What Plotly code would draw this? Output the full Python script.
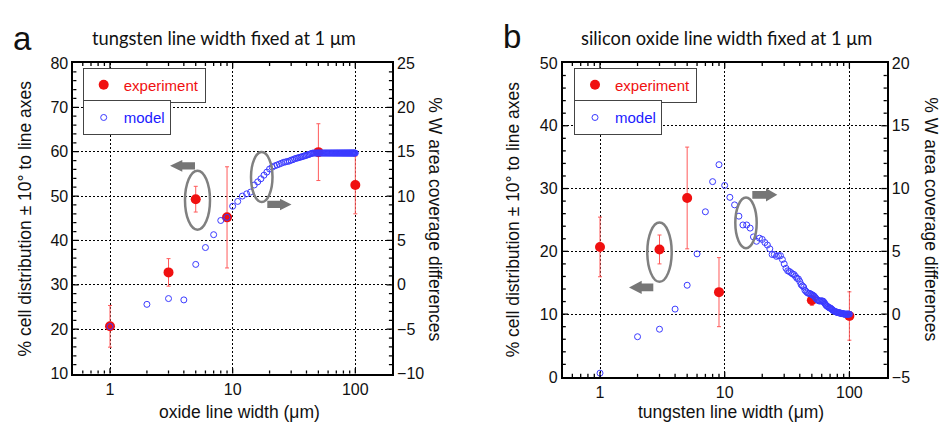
import math
import plotly.graph_objects as go

# ---------------- data ----------------
# panel a: tungsten line width fixed at 1 um, x = oxide line width
oxide_width_exp = [1, 3, 5, 9, 50, 100]
cell_pct_a = [20.65, 32.8, 49.3, 45.2, 59.9, 52.5]
cell_err_a = [4.7, 3.1, 2.9, 11.4, 6.4, 6.5]

model_width = [1, 2, 3, 4, 5, 6, 7, 8, 9, 10,
               11, 12, 13, 14, 15, 16, 17, 18, 19, 20,
               21, 22, 23, 24, 25, 26, 27, 28, 29, 30,
               31, 32, 33, 34, 35, 36, 37, 38, 39, 40,
               41, 42, 43, 44, 45, 46, 47, 48, 49, 50,
               51, 52, 53, 54, 55, 56, 57, 58, 59, 60,
               61, 62, 63, 64, 65, 66, 67, 68, 69, 70,
               71, 72, 73, 74, 75, 76, 77, 78, 79, 80,
               81, 82, 83, 84, 85, 86, 87, 88, 89, 90,
               91, 92, 93, 94, 95, 96, 97, 98, 99, 100]

w_cov_a = [-4.7, -2.2, -1.55, -1.7, 2.3, 4.2, 5.65, 7.25, 7.6, 8.85,
           9.4, 10.0, 10.25, 10.45, 11.25, 11.6, 11.95, 12.35, 12.7, 13.05,
           13.25, 13.4, 13.5, 13.6, 13.7, 13.8, 13.85, 13.9, 13.95, 14.05,
           14.1, 14.2, 14.25, 14.3, 14.35, 14.4, 14.45, 14.5, 14.55, 14.6,
           14.65, 14.7, 14.75, 14.8, 14.85, 14.85, 14.85, 14.85, 14.85, 14.85,
           14.85, 14.85, 14.85, 14.85, 14.85, 14.85, 14.85, 14.85, 14.85, 14.85,
           14.85, 14.85, 14.85, 14.85, 14.85, 14.85, 14.85, 14.85, 14.85, 14.85,
           14.85, 14.85, 14.85, 14.85, 14.85, 14.85, 14.85, 14.85, 14.85, 14.85,
           14.85, 14.85, 14.85, 14.85, 14.85, 14.85, 14.85, 14.85, 14.85, 14.85,
           14.85, 14.85, 14.85, 14.85, 14.85, 14.85, 14.85, 14.85, 14.85, 14.85]

# panel b: silicon oxide line width fixed at 1 um, x = tungsten line width
tungsten_width_exp = [1, 3, 5, 9, 50, 100]
cell_pct_b = [20.7, 20.3, 28.5, 13.5, 12.2, 9.7]
cell_err_b = [4.75, 2.3, 8.1, 5.5, 0.8, 3.85]

w_cov_b = [-4.7, -1.8, -1.2, 0.4, 2.3, 4.8, 8.15, 10.55, 11.9, 10.25,
           9.3, 8.7, 7.8, 7.1, 7.1, 6.85, 6.15, 5.8, 6.05, 5.95,
           5.7, 5.5, 5.2, 4.75, 4.75, 4.6, 4.65, 4.65, 4.35, 4.0,
           3.65, 3.45, 3.4, 3.3, 3.2, 3.15, 3.0, 2.85, 2.8, 2.6,
           2.35, 2.25, 2.15, 1.9, 1.8, 1.7, 1.65, 1.65, 1.6, 1.55,
           1.5, 1.45, 1.35, 1.25, 1.15, 1.1, 1.05, 1.05, 1.05, 1.05,
           1.05, 1.0, 0.9, 0.8, 0.7, 0.65, 0.6, 0.55, 0.5, 0.5,
           0.45, 0.4, 0.35, 0.3, 0.25, 0.22, 0.2, 0.18, 0.15, 0.15,
           0.12, 0.1, 0.1, 0.1, 0.08, 0.05, 0.05, 0.05, 0.02, 0.02,
           0.0, 0.0, 0.0, 0.0, 0.0, 0.0, 0.0, 0.0, 0.0, 0.0]

# axis tick positions
x_major_ticks = [1, 10, 100]
x_minor_ticks = [0.6, 0.7, 0.8, 0.9, 2, 3, 4, 5, 6, 7, 8, 9,
                 20, 30, 40, 50, 60, 70, 80, 90]
X_LOG_RANGE = [-0.3, 2.3]

# ---------------- styling ----------------
W, H = 941, 433
RED = "#f01010"
ERR = "#ff5a5a"
BLUE = "#3a3aff"
GRAY = "#808080"
AX_FONT = "Liberation Sans, Arial, sans-serif"
TITLE_FONT = "Lato, Carlito, sans-serif"


def px(x):
    return x / W


def py(y):
    return 1 - y / H


fig = go.Figure()

# panel a
fig.add_trace(go.Scatter(
    x=oxide_width_exp, y=cell_pct_a, mode="markers", name="experiment",
    marker=dict(color=RED, size=10), showlegend=True,
    error_y=dict(type="data", array=cell_err_a, color=ERR, thickness=1, width=2),
    xaxis="x", yaxis="y", legend="legend"))
fig.add_trace(go.Scatter(
    x=model_width, y=w_cov_a, mode="markers", name="model", showlegend=True,
    marker=dict(symbol="circle-open", color=BLUE, size=6, line=dict(width=1)),
    xaxis="x", yaxis="y2", legend="legend2"))

# panel b
fig.add_trace(go.Scatter(
    x=tungsten_width_exp, y=cell_pct_b, mode="markers", name="experiment",
    marker=dict(color=RED, size=10), showlegend=True,
    error_y=dict(type="data", array=cell_err_b, color=ERR, thickness=1, width=2),
    xaxis="x2", yaxis="y3", legend="legend3"))
fig.add_trace(go.Scatter(
    x=model_width, y=w_cov_b, mode="markers", name="model", showlegend=True,
    marker=dict(symbol="circle-open", color=BLUE, size=6, line=dict(width=1)),
    xaxis="x2", yaxis="y4", legend="legend4"))

GRID_DASH = "2px,2px"

xa_common = dict(
    type="log", range=X_LOG_RANGE, tickvals=x_major_ticks,
    ticktext=[str(v) for v in x_major_ticks],
    ticks="", showline=True, linecolor="black", linewidth=1.6, mirror=True,
    showgrid=True, gridcolor="black", gridwidth=1, griddash=GRID_DASH,
    zeroline=False, tickfont=dict(family=AX_FONT, size=16, color="#111"),
)
yl_common = dict(
    ticks="", showline=True, linecolor="black", linewidth=1.6, mirror=False,
    showgrid=True, gridcolor="black", gridwidth=1, griddash=GRID_DASH,
    zeroline=False, tickfont=dict(family=AX_FONT, size=16, color="#111"),
)
yr_common = dict(
    ticks="", showline=True, linecolor="black", linewidth=1.6, side="right",
    showgrid=False, zeroline=False,
    tickfont=dict(family=AX_FONT, size=16, color="#111"),
)

dom_a = [px(73.2), px(392.1)]
dom_b = [px(562.6), px(886.8)]
ydom_a = [py(380.5), py(57.2)]
ydom_b = [py(384.0), py(57.2)]

YA_RANGE, YA2_RANGE = [10, 80], [-10, 25]
YB_RANGE, YB2_RANGE = [0, 50], [-5, 20]

fig.update_layout(
    width=W, height=H, margin=dict(l=0, r=0, t=0, b=0),
    paper_bgcolor="white", plot_bgcolor="white", showlegend=True,
    xaxis=dict(domain=dom_a, anchor="y", **xa_common),
    yaxis=dict(domain=ydom_a, anchor="x", range=YA_RANGE, dtick=10, **yl_common),
    yaxis2=dict(overlaying="y", anchor="x", range=YA2_RANGE, dtick=5, **yr_common),
    xaxis2=dict(domain=dom_b, anchor="y3", **xa_common),
    yaxis3=dict(domain=ydom_b, anchor="x2", range=YB_RANGE, dtick=10, **yl_common),
    yaxis4=dict(overlaying="y3", anchor="x2", range=YB2_RANGE, dtick=5, **yr_common),
)

leg_common = dict(xanchor="left", yanchor="top", bgcolor="white",
                  bordercolor="#444", borderwidth=1, itemsizing="trace",
                  visible=True)
fig.update_layout(
    legend=dict(x=px(82.7), y=py(62), font=dict(family=AX_FONT, size=15, color=RED), **leg_common),
    legend2=dict(x=px(82.7), y=py(96), font=dict(family=AX_FONT, size=15, color="#1a1aff"), **leg_common),
    legend3=dict(x=px(574), y=py(62), font=dict(family=AX_FONT, size=15, color=RED), **leg_common),
    legend4=dict(x=px(574), y=py(96), font=dict(family=AX_FONT, size=15, color="#1a1aff"), **leg_common),
)

annotations = []


def ann(text, x, y, size, family=AX_FONT, angle=0, xanchor="center", yanchor="middle"):
    annotations.append(dict(text=text, x=px(x), y=py(y), xref="paper", yref="paper",
                            showarrow=False, textangle=angle, xanchor=xanchor,
                            yanchor=yanchor, font=dict(family=family, size=size, color="#111")))


ann("a", 22.5, 32, 33)
ann("b", 512, 30, 33)
ann("tungsten line width fixed at 1 μm", 224, 31, 18.3, family=TITLE_FONT)
ann("silicon oxide line width fixed at 1 μm", 726, 31, 18.3, family=TITLE_FONT)
ann("oxide line width (μm)", 239, 421, 17.5)
ann("tungsten line width (μm)", 731, 421, 17.5)
ann("% cell distribution ± 10° to line axes", 25, 219, 17.5, angle=-90)
ann("% cell distribution ± 10° to line axes", 513, 220, 17.5, angle=-90)
ann("% W area coverage differences", 435, 220, 17.5, angle=90)
ann("% W area coverage differences", 931, 220, 17.5, angle=90)
fig.update_layout(annotations=annotations)

shapes = []
TICK_LINE = dict(color="black", width=1.3)
MAJ, MIN = 5.5, 3.2


def x_ticks(xa, ya, wpx, hpx):
    for vals, ln in ((x_major_ticks, MAJ), (x_minor_ticks, MIN)):
        for v in vals:
            f = (math.log10(v) - X_LOG_RANGE[0]) / (X_LOG_RANGE[1] - X_LOG_RANGE[0])
            d = ln / hpx
            for y0, y1 in ((0, d), (1, 1 - d)):
                shapes.append(dict(type="line", xref=f"{xa} domain", yref=f"{ya} domain",
                                   x0=f, x1=f, y0=y0, y1=y1, line=TICK_LINE))


def y_ticks(xa, ya, rng, major, minor, side, wpx):
    v = rng[0]
    k = 0
    while v <= rng[1] + 1e-9:
        if rng[0] < v < rng[1]:
            ln = MAJ if abs((v - rng[0]) % major) < 1e-9 or abs((v % major)) < 1e-9 else MIN
            d = ln / wpx
            x0, x1 = (0, d) if side == "left" else (1, 1 - d)
            shapes.append(dict(type="line", xref=f"{xa} domain", yref=ya,
                               x0=x0, x1=x1, y0=v, y1=v, line=TICK_LINE))
        k += 1
        v = rng[0] + k * minor


x_ticks("x", "y", 318.9, 323.3)
x_ticks("x2", "y3", 324.2, 326.8)
y_ticks("x", "y", YA_RANGE, 10, 2, "left", 318.9)
y_ticks("x", "y2", YA2_RANGE, 5, 1, "right", 318.9)
y_ticks("x2", "y3", YB_RANGE, 10, 2, "left", 324.2)
y_ticks("x2", "y4", YB2_RANGE, 5, 1, "right", 324.2)


def ellipse(x0, x1, y0, y1):
    shapes.append(dict(type="circle", xref="paper", yref="paper",
                       x0=px(x0), x1=px(x1), y0=py(y1), y1=py(y0),
                       line=dict(color=GRAY, width=2.5), fillcolor="rgba(0,0,0,0)"))


def block_arrow(tip, base, tail, cy, hh, sh):
    pts = [(tip, cy), (base, cy - hh), (base, cy - sh), (tail, cy - sh),
           (tail, cy + sh), (base, cy + sh), (base, cy + hh)]
    path = "M " + " L ".join(f"{px(a):.5f},{py(b):.5f}" for a, b in pts) + " Z"
    shapes.append(dict(type="path", xref="paper", yref="paper", path=path,
                       fillcolor="#767676", opacity=1, line=dict(width=0)))


ellipse(185, 210, 169.3, 230.7)
ellipse(251, 272.5, 150, 202)
block_arrow(170, 182.3, 195, 164.3, 6.2, 3.7)
block_arrow(291.5, 280, 267.3, 204.5, 6.0, 3.8)

ellipse(647.3, 671.7, 223.3, 285)
ellipse(735.3, 756.7, 197.3, 250)
block_arrow(629, 641.7, 653.3, 290.8, 6.8, 4.0)
block_arrow(777.3, 766, 752.3, 194.5, 6.8, 4.0)

fig.update_layout(shapes=shapes)

fig.write_html("out.html")
